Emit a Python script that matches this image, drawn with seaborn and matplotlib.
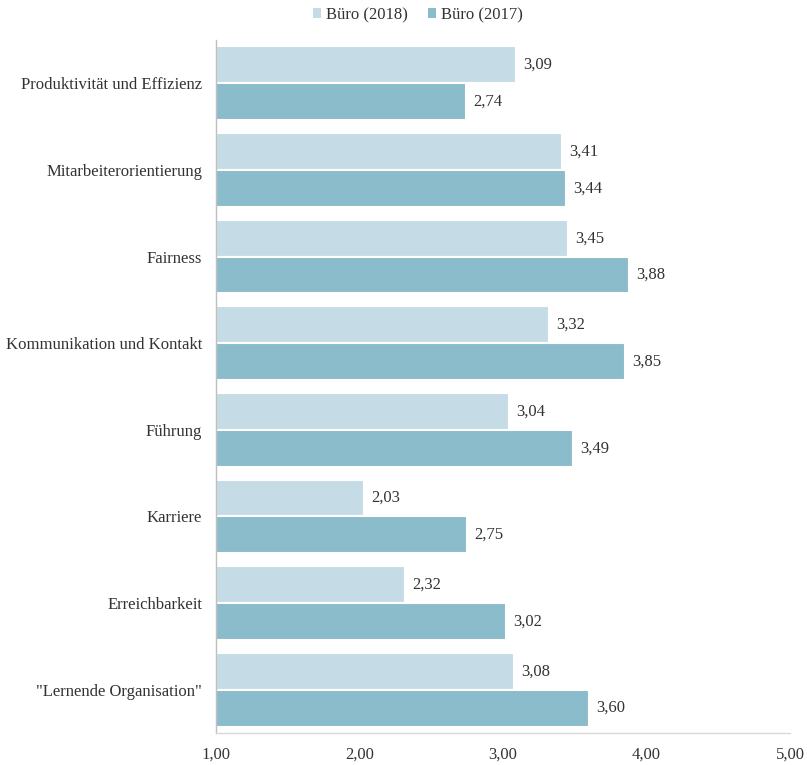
import matplotlib
matplotlib.use("Agg")
import matplotlib.pyplot as plt
import seaborn as sns
import pandas as pd
from matplotlib.patches import Patch

categories = ["Produktivität und Effizienz", "Mitarbeiterorientierung", "Fairness",
              "Kommunikation und Kontakt", "Führung", "Karriere", "Erreichbarkeit",
              "\"Lernende Organisation\""]
series_names = ["Büro (2018)", "Büro (2017)"]
values_2018 = [3.09, 3.41, 3.45, 3.32, 3.04, 2.03, 2.32, 3.08]
values_2017 = [2.74, 3.44, 3.88, 3.85, 3.49, 2.75, 3.02, 3.60]
x_ticks = [1.0, 2.0, 3.0, 4.0, 5.0]
x_tick_labels = ["1,00", "2,00", "3,00", "4,00", "5,00"]
colors = ["#c5dce6", "#8bbccb"]

sns.set_theme(style="white")
plt.rcParams["font.family"] = ["Liberation Serif", "DejaVu Serif"]

df = pd.DataFrame({
    "Kategorie": categories * 2,
    "Serie": [series_names[0]] * len(categories) + [series_names[1]] * len(categories),
    "Wert": values_2018 + values_2017,
})
base = 1.0
df["Len"] = df["Wert"] - base

fig = plt.figure(figsize=(8.07, 7.65), dpi=100)
ax = fig.add_axes([216 / 807, 1 - 733 / 765, (790 - 216) / 807, 693 / 765])

sns.barplot(data=df, y="Kategorie", x="Len", hue="Serie", orient="h",
            palette=colors, saturation=1, width=0.85, ax=ax, legend=False,
            edgecolor="white", linewidth=1.5, errorbar=None)

for p in ax.patches:
    p.set_x(p.get_x() + base)

ax.set_xlim(1.0, 5.0)
ax.set_ylim(7.5, -0.5)
ax.set_xticks(x_ticks)
ax.set_xticklabels(x_tick_labels, fontsize=12, color="#333333")
ax.tick_params(axis="y", labelsize=12, colors="#333333", length=0, pad=10)
ax.tick_params(axis="x", length=0, pad=10)
ax.set_xlabel("")
ax.set_ylabel("")
for s in ["top", "right"]:
    ax.spines[s].set_visible(False)
ax.spines["left"].set_color("#bfbfbf")
ax.spines["bottom"].set_color("#d9d9d9")
ax.spines["left"].set_linewidth(1.0)
ax.spines["bottom"].set_linewidth(1.0)

for p in ax.patches:
    w = p.get_x() + p.get_width()
    if p.get_height() <= 0:
        continue
    y = p.get_y() + p.get_height() / 2
    ax.text(w + 0.05, y, f"{w:.2f}".replace(".", ","), va="center", ha="left",
            fontsize=12, color="#333333")

handles = [Patch(facecolor=c, edgecolor="none") for c in colors]
fig.legend(handles, series_names, loc="center", bbox_to_anchor=(418 / 807, 1 - 15 / 765),
           ncol=2, frameon=False, fontsize=12, handlelength=0.5, handleheight=0.5,
           handletextpad=0.3, columnspacing=1.2, labelcolor="#333333")

fig.savefig("out.png", dpi=100)
